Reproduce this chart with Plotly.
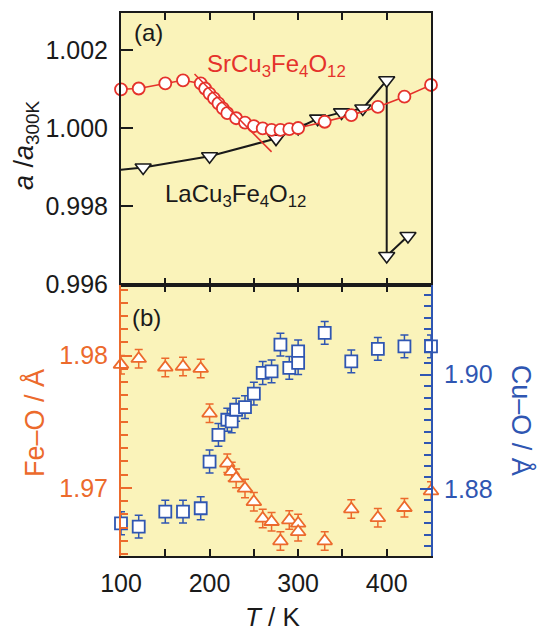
import plotly.graph_objects as go

# ---------------- data ----------------
# (a) lattice parameter normalised to 300 K
sr_T = [100, 120, 150, 170, 190, 195, 200, 205, 210, 215, 220, 230, 240, 250,
        260, 270, 280, 290, 300, 330, 360, 390, 420, 450]
sr_a = [1.00099, 1.00101, 1.00114, 1.00122, 1.00114, 1.00101, 1.00088, 1.00076,
        1.00063, 1.00050, 1.00038, 1.00025, 1.00014, 1.00005, 0.99999, 0.99995,
        0.99995, 0.99997, 1.00000, 1.00016, 1.00033, 1.00054, 1.00080, 1.00110]

# guide line drawn along the steep part of the SrCu3Fe4O12 curve
sr_guide_T = [183, 270]
sr_guide_a = [1.00138, 0.99939]

la_T = [75, 125, 200, 275, 300, 322, 349, 373, 400, 400, 424]
la_a = [0.99888, 0.99899, 0.99928, 0.99973, 1.00000, 1.00024, 1.00040, 1.00050,
        1.00122, 0.99673, 0.99724]

# (b) bond lengths of SrCu3Fe4O12
feo_T = [100, 120, 150, 170, 190, 200, 220, 225, 230, 240, 250, 260, 270, 280,
         290, 300, 300, 330, 360, 390, 420, 450]
feo_d = [1.97932, 1.97977, 1.97911, 1.97918, 1.97902, 1.97564, 1.97186, 1.97123,
         1.97072, 1.96996, 1.96895, 1.96769, 1.96744, 1.96598, 1.96757, 1.96731,
         1.96668, 1.96598, 1.96840, 1.96774, 1.96850, 1.96976]
feo_err = [0.0007] * len(feo_T)

cuo_T = [100, 120, 150, 170, 190, 200, 210, 220, 225, 230, 240, 250, 260, 270,
         280, 290, 300, 300, 330, 360, 390, 420, 450]
cuo_d = [1.87398, 1.87339, 1.87602, 1.87602, 1.87661, 1.88479, 1.88947, 1.89211,
         1.89181, 1.89386, 1.89433, 1.89667, 1.90030, 1.90058, 1.90526, 1.90118,
         1.90409, 1.90205, 1.90732, 1.90233, 1.90451, 1.90496, 1.90496]
cuo_err = [0.002] * len(cuo_T)

x_labels = [100, 200, 300, 400]
a_ticks = [0.996, 0.998, 1.000, 1.002]
feo_ticks = [1.97, 1.98]
cuo_ticks = [1.88, 1.90]

# ---------------- style ----------------
FONT = "Liberation Sans, Arial, Helvetica, sans-serif"
RED = "#E5322B"
ORANGE = "#EC6A2C"
BLUE = "#2F56B2"
BG = "#FAF3BA"
INK = "#1a1a1a"

fig = go.Figure()

fig.add_trace(go.Scatter(
    x=la_T, y=la_a, xaxis="x", yaxis="y", mode="lines+markers",
    line=dict(color=INK, width=2),
    marker=dict(symbol="triangle-down", size=14, color="white",
                line=dict(color=INK, width=1.6)),
    cliponaxis=True, showlegend=False))

fig.add_trace(go.Scatter(
    x=sr_T, y=sr_a, xaxis="x", yaxis="y", mode="lines+markers",
    line=dict(color=RED, width=1.6),
    marker=dict(symbol="circle", size=12, color="white",
                line=dict(color=RED, width=1.8)),
    cliponaxis=False, showlegend=False))

fig.add_trace(go.Scatter(
    x=sr_guide_T, y=sr_guide_a, xaxis="x", yaxis="y", mode="lines",
    line=dict(color=RED, width=1.5), showlegend=False))

fig.add_trace(go.Scatter(
    x=feo_T, y=feo_d, xaxis="x2", yaxis="y2", mode="markers",
    marker=dict(symbol="triangle-up", size=13, color="white",
                line=dict(color=ORANGE, width=1.8)),
    error_y=dict(type="data", array=feo_err, color=ORANGE, thickness=1.5, width=4),
    cliponaxis=False, showlegend=False))

fig.add_trace(go.Scatter(
    x=cuo_T, y=cuo_d, xaxis="x2", yaxis="y3", mode="markers",
    marker=dict(symbol="square", size=12, color="white",
                line=dict(color=BLUE, width=1.8)),
    error_y=dict(type="data", array=cuo_err, color=BLUE, thickness=1.5, width=4),
    cliponaxis=False, showlegend=False))

common_x = dict(range=[100, 450], tickvals=x_labels, showgrid=False, zeroline=False,
                linecolor=INK, linewidth=2, ticks="inside", ticklen=7, tickwidth=2,
                tickcolor=INK, mirror="ticks",
                minor=dict(tickvals=[150, 250, 350], ticks="inside", ticklen=7,
                           tickwidth=2, tickcolor=INK, showgrid=False))

fig.update_layout(
    width=539, height=633,
    margin=dict(l=121, r=108, t=13, b=77),
    paper_bgcolor="white", plot_bgcolor=BG,
    font=dict(family=FONT, size=25, color=INK),
    xaxis=dict(domain=[0, 1], anchor="y", showticklabels=False, **common_x),
    yaxis=dict(domain=[0.5, 1], anchor="x", range=[0.996, 1.00294],
               tickvals=a_ticks, tickformat=".3f", showgrid=False, zeroline=False,
               linecolor=INK, linewidth=2, ticks="inside", ticklen=12, tickwidth=2,
               tickcolor=INK, mirror=True, ticklabelstandoff=6,
               tickfont=dict(size=25, color=INK)),
    xaxis2=dict(domain=[0, 1], anchor="y2", ticklabelstandoff=4,
                tickfont=dict(size=25, color=INK), **common_x),
    yaxis2=dict(domain=[0, 0.5], anchor="x2", range=[1.96485, 1.98538],
                tickvals=feo_ticks, tickformat=".2f", showgrid=False, zeroline=False,
                linecolor=ORANGE, linewidth=2, ticks="inside", ticklen=11,
                tickwidth=2, tickcolor=ORANGE, ticklabelstandoff=6,
                tickfont=dict(size=25, color=ORANGE),
                minor=dict(dtick=0.001, tick0=1.97, ticks="inside", ticklen=7,
                           tickwidth=1.5, tickcolor=ORANGE, showgrid=False)),
    yaxis3=dict(overlaying="y2", side="right", anchor="x2",
                range=[1.86825, 1.91579], tickvals=cuo_ticks, tickformat=".2f",
                showgrid=False, zeroline=False, linecolor=BLUE, linewidth=2,
                ticks="inside", ticklen=11, tickwidth=2, tickcolor=BLUE,
                ticklabelstandoff=6, tickfont=dict(size=25, color=BLUE),
                minor=dict(dtick=0.002, tick0=1.88, ticks="inside", ticklen=7,
                           tickwidth=1.5, tickcolor=BLUE, showgrid=False)),
)

notes = [
    dict(text="(a)", x=131, y=1.00243, xref="x", yref="y",
         font=dict(size=24, color=INK)),
    dict(text="SrCu<sub>3</sub>Fe<sub>4</sub>O<sub>12</sub>", x=275, y=1.00160,
         xref="x", yref="y", font=dict(size=24, color=RED)),
    dict(text="LaCu<sub>3</sub>Fe<sub>4</sub>O<sub>12</sub>", x=229, y=0.99828,
         xref="x", yref="y", font=dict(size=24, color=INK)),
    dict(text="(b)", x=129, y=1.98288, xref="x2", yref="y2",
         font=dict(size=24, color=INK)),
    dict(text="<i>a</i> /<i>a</i><sub>300K</sub>", x=-0.306, y=0.757,
         xref="paper", yref="paper", textangle=-90,
         font=dict(size=27, color=INK)),
    dict(text="Fe\u2013O / \u00c5", x=-0.277, y=0.245, xref="paper", yref="paper",
         textangle=-90, font=dict(size=27, color=ORANGE)),
    dict(text="Cu\u2013O / \u00c5", x=1.292, y=0.250, xref="paper", yref="paper",
         textangle=90, font=dict(size=27, color=BLUE)),
    dict(text="<i>T</i> / K", x=0.49, y=-0.112, xref="paper", yref="paper",
         font=dict(size=26, color=INK)),
]
for n in notes:
    fig.add_annotation(showarrow=False, xanchor="center", yanchor="middle", **n)

fig.write_html("out.html")
